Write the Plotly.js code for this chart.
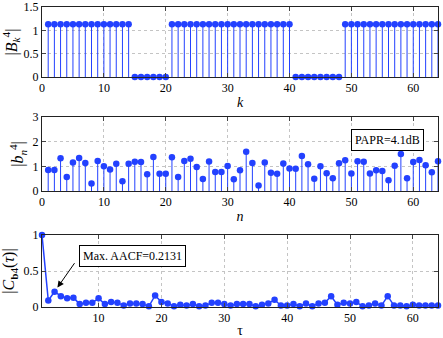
<!DOCTYPE html>
<html>
<head>
<meta charset="utf-8">
<script src="https://cdn.plot.ly/plotly-3.0.1.min.js"></script>
<style>html,body{margin:0;padding:0;background:#fff;}#chart{width:443px;height:338px;}</style>
</head>
<body>
<div id="chart"></div>
<script>
// |B_k^4| spectrum magnitudes, k = 1..64
const spectrumMag = [
  1.1314,1.1314,1.1314,1.1314,1.1314,1.1314,1.1314,1.1314,1.1314,1.1314,1.1314,1.1314,1.1314,1.1314,
  0,0,0,0,0,0,
  1.1314,1.1314,1.1314,1.1314,1.1314,1.1314,1.1314,1.1314,1.1314,1.1314,1.1314,1.1314,1.1314,1.1314,1.1314,1.1314,1.1314,1.1314,1.1314,1.1314,
  0,0,0,0,0,0,0,0,
  1.1314,1.1314,1.1314,1.1314,1.1314,1.1314,1.1314,1.1314,1.1314,1.1314,1.1314,1.1314,1.1314,1.1314,1.1314,1.1314
];
// |b_n^4| time-domain magnitudes, n = 1..64
const timeMag = [
  0.85,0.85,1.33,0.57,1.16,1.34,1.14,0.30,1.22,1.00,
  0.87,1.10,0.40,1.10,1.19,1.18,0.68,1.38,0.70,0.70,
  1.37,0.57,1.22,1.31,0.97,0.49,1.20,0.77,0.77,1.01,
  0.48,0.84,1.59,1.14,0.22,1.16,0.74,0.70,1.11,0.91,
  0.90,1.42,1.08,0.50,1.00,0.72,0.52,1.12,1.25,0.71,
  1.21,1.19,0.71,0.84,0.81,0.44,1.02,1.50,0.52,1.18,
  1.26,1.04,0.76,1.21
];
// |C_b4(tau)| aperiodic autocorrelation, tau = 1..64
const aacf = [
  1.00,0.09,0.2131,0.15,0.12,0.13,0.04,0.06,0.06,0.12,
  0.04,0.07,0.06,0.02,0.05,0.05,0.04,0.01,0.16,0.07,
  0.05,0.01,0.03,0.02,0.04,0.01,0.02,0.06,0.06,0.04,
  0.02,0.04,0.04,0.04,0.01,0.03,0.05,0.10,0.02,0.02,
  0.04,0.01,0.05,0.01,0.05,0.06,0.15,0.03,0.06,0.05,
  0.07,0.01,0.02,0.05,0.02,0.15,0.02,0.02,0.01,0.03,
  0.02,0.02,0.02,0.02
];
// tick labels
const xTicksTop = [0, 10, 20, 30, 40, 50, 60];
const xTicksBottom = [10, 20, 30, 40, 50, 60];
const yTicks1 = [0, 0.5, 1, 1.5];
const yTicks2 = [0, 1, 2, 3];
const yTicks3 = [0, 0.5, 1];
const paprText = 'PAPR=4.1dB';
const aacfText = 'Max. AACF=0.2131';

const kIdx = spectrumMag.map((_, i) => i + 1);
const nIdx = timeMag.map((_, i) => i + 1);
const tauIdx = aacf.map((_, i) => i + 1);
const sidelobes = aacf.slice(1);
const maxAacfVal = Math.max(...sidelobes);
const maxAacfIdx = sidelobes.indexOf(maxAacfVal) + 2;

const blue = 'rgb(35,65,255)';
const serif = 'Liberation Serif, Times New Roman, serif';

function stem(x, y, xa, ya) {
  return {
    type: 'scatter', mode: 'markers', x: x, y: y, xaxis: xa, yaxis: ya,
    marker: {color: blue, size: 6.5},
    error_y: {type: 'data', symmetric: false, array: y.map(() => 0), arrayminus: y,
              width: 0, thickness: 1, color: blue},
    hoverinfo: 'skip', cliponaxis: false
  };
}

const traces = [
  stem(kIdx, spectrumMag, 'x', 'y'),
  stem(nIdx, timeMag, 'x2', 'y2'),
  {type: 'scatter', mode: 'lines+markers', x: tauIdx, y: aacf, xaxis: 'x3', yaxis: 'y3',
   line: {color: blue, width: 1.5}, marker: {color: blue, size: 6.5}, hoverinfo: 'skip', cliponaxis: false}
];

function xa(anchor, range, title, tickvals) {
  return {
    anchor: anchor, domain: [0, 1], range: range, tickmode: 'array', tickvals: tickvals,
    ticklabeloverflow: 'allow',
    showline: true, linecolor: '#222', linewidth: 1, mirror: 'ticks',
    ticks: 'inside', ticklen: 4, tickcolor: '#444',
    showgrid: true, gridcolor: '#c4c4c4', griddash: 'dot', gridwidth: 1,
    zeroline: false, tickfont: {family: serif, size: 12, color: '#000'},
    title: {text: title, font: {family: serif, size: 14, color: '#000'}, standoff: 2}
  };
}
function ya(anchor, domain, range, tickvals, title) {
  return {
    anchor: anchor, domain: domain, range: range, tickmode: 'array', tickvals: tickvals,
    ticklabeloverflow: 'allow',
    showline: true, linecolor: '#222', linewidth: 1, mirror: 'ticks',
    ticks: 'inside', ticklen: 4, tickcolor: '#444',
    showgrid: true, gridcolor: '#c4c4c4', griddash: 'dot', gridwidth: 1,
    zeroline: false, tickfont: {family: serif, size: 12, color: '#000'},
    title: {text: title, font: {family: serif, size: 16, color: '#000'}, standoff: 4}
  };
}

const layout = {
  width: 443, height: 338,
  margin: {l: 42, r: 5, t: 7, b: 31},
  paper_bgcolor: '#fff', plot_bgcolor: '#fff',
  showlegend: false,
  font: {family: serif, color: '#000'},
  xaxis: xa('y', [0, 64], '<i>k</i>', xTicksTop),
  yaxis: ya('x', [0.7667, 1], [0, 1.5], yTicks1, '|<i>B</i><sub><i>k</i></sub><sup>4</sup>|'),
  xaxis2: xa('y2', [0, 64], '<i>n</i>', xTicksTop),
  yaxis2: ya('x2', [0.3867, 0.6333], [0, 3], yTicks2, '|<i>b</i><sub><i>n</i></sub><sup>4</sup>|'),
  xaxis3: xa('y3', [1, 64], 'τ', xTicksBottom),
  yaxis3: ya('x3', [0, 0.24], [0, 1], yTicks3, '|<i>C</i><sub><b>b</b>4</sub>(<i>τ</i>)|'),
  annotations: [
    {xref: 'x2', yref: 'y2', x: 55.8, y: 2.06, text: paprText, showarrow: false,
     font: {family: serif, size: 12, color: '#000'}, bordercolor: '#000', borderwidth: 1,
     borderpad: 3, bgcolor: '#fff'},
    {xref: 'x3', yref: 'y3', x: 15.4, y: 0.71, text: aacfText, showarrow: false,
     font: {family: serif, size: 12, color: '#000'}, bordercolor: '#000', borderwidth: 1,
     borderpad: 3, bgcolor: '#fff'},
    {xref: 'x3', yref: 'y3', x: maxAacfIdx, y: maxAacfVal, text: '', showarrow: true,
     ax: 21, ay: -30, arrowhead: 2, arrowsize: 1.3, arrowwidth: 1, arrowcolor: '#000', standoff: 5}
  ]
};

Plotly.newPlot('chart', traces, layout, {staticPlot: true, displayModeBar: false});
</script>
</body>
</html>
